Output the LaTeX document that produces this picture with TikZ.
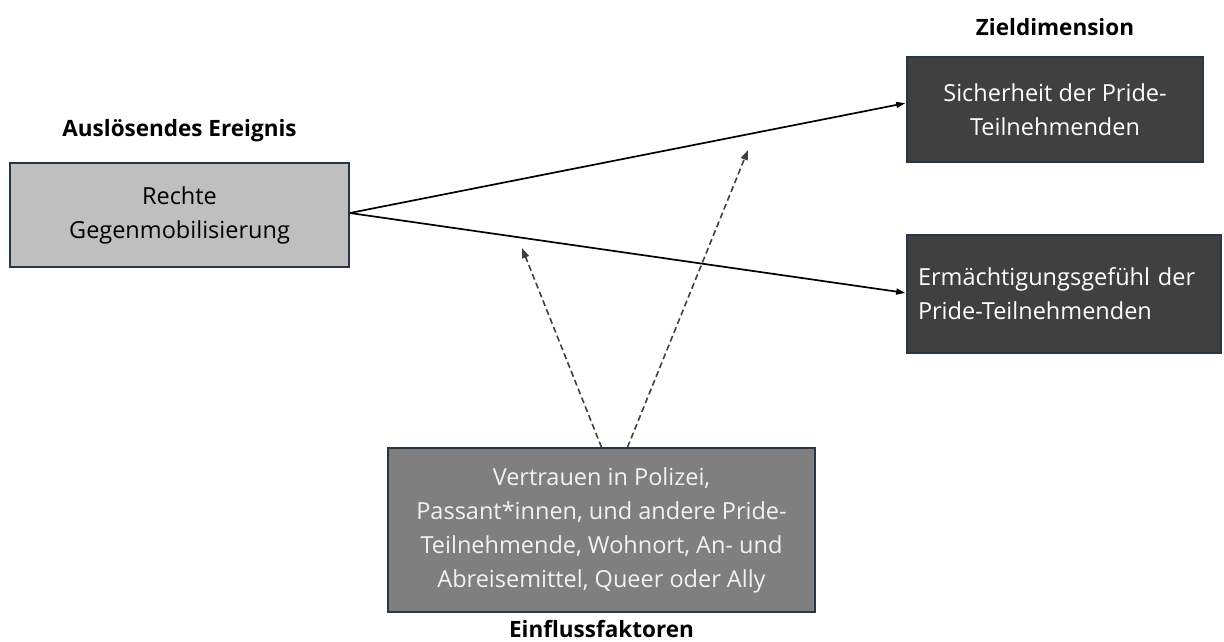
\documentclass[tikz,border=0pt]{standalone}
\usepackage{fontspec}
\setmainfont{Open Sans}
\usepackage{xcolor}
\usetikzlibrary{arrows.meta, positioning}

\definecolor{rimblue}{HTML}{26374A}
\definecolor{lightbox}{HTML}{BFBFBF}
\definecolor{darkbox}{HTML}{404040}
\definecolor{midbox}{HTML}{7F7F7F}

\begin{document}
\begin{tikzpicture}[x=1pt, y=1pt,
    box/.style={rectangle, draw=rimblue, line width=1.6pt, align=center, inner sep=0pt,
        font=\fontsize{23.5}{34}\selectfont},
    heading/.style={font=\fontsize{22.5}{26}\selectfont\bfseries, inner sep=0pt},
    effect/.style={-{Triangle[length=9pt, width=6pt]}, line width=1.7pt, shorten >=1pt},
    factor/.style={-{Triangle[length=10pt, width=7pt]}, line width=1.6pt, darkbox,
        dash pattern=on 6pt off 3.5pt}]

    \useasboundingbox (0,0) rectangle (1224,-642);

    \node[box, fill=lightbox, minimum width=339pt, minimum height=104pt] (event) at (179.5,-215) {Rechte\\Gegenmobilisierung};
    \node[box, fill=darkbox, text=white, minimum width=296pt, minimum height=105pt] (safety) at (1055,-109.5) {Sicherheit der Pride-\\Teilnehmenden};
    \node[box, fill=darkbox, text=white, minimum width=314pt, minimum height=118pt, align=left, text width=292pt] (empower) at (1064,-294) {Ermächtigungsgefühl der\\Pride-Teilnehmenden};
    \node[box, fill=midbox, text=white!95!black, minimum width=427pt, minimum height=164pt] (factors) at (601.5,-530) {Vertrauen in Polizei,\\Passant*innen, und andere Pride-\\Teilnehmende, Wohnort, An- und\\Abreisemittel, Queer oder Ally};

    \node[heading, above=20pt of event] (eventlabel) {Auslösendes Ereignis};
    \node[heading, above=20pt of safety] (goallabel) {Zieldimension};
    \node[heading, below=7pt of factors] (factorlabel) {Einflussfaktoren};

    \coordinate (m1) at (522,-248);
    \coordinate (m2) at (748,-150);

    \draw[effect] ([yshift=2pt]event.east) -- ([yshift=6.5pt]safety.west);
    \draw[effect] ([yshift=2pt]event.east) -- ([yshift=1pt]empower.west);

    \draw[factor] (factors.north) -- (m1);
    \draw[factor] ([xshift=26pt]factors.north) -- (m2);

\end{tikzpicture}
\end{document}
